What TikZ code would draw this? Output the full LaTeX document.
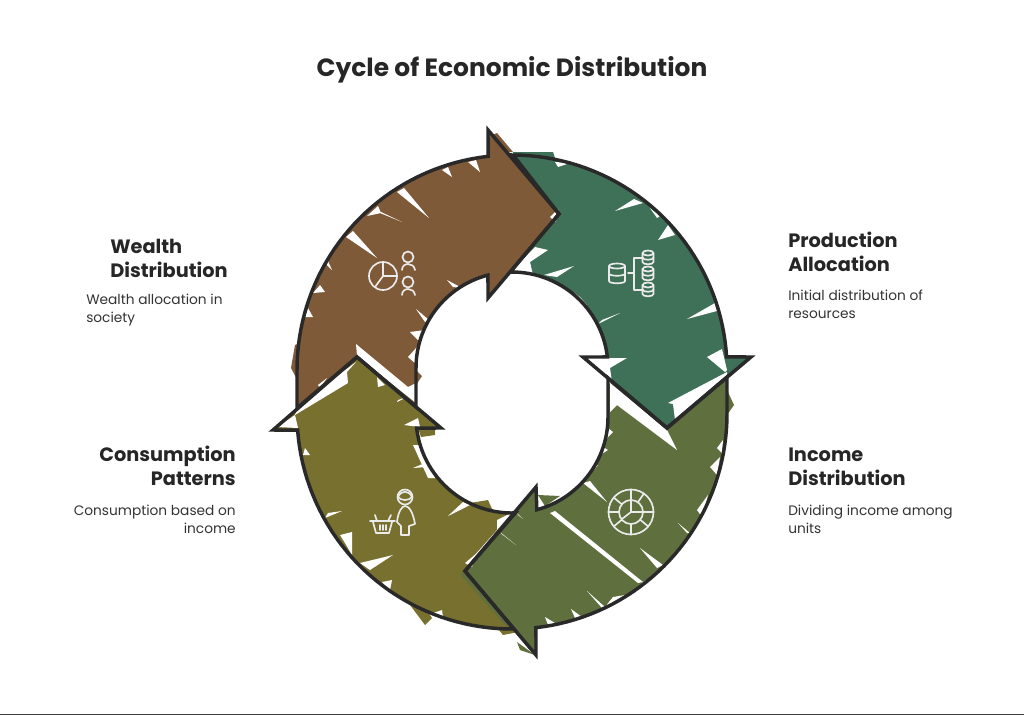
\documentclass[tikz,border=0pt]{standalone}
\usepackage{fontspec}
\usepackage{xcolor}
\setmainfont{Poppins}
\def\wealtharrow{(357,357) -- (297,408) -- plot[domain=180:96.4,samples=40] ({512+215*cos(\x)},{370-215*sin(\x)}) -- (488,130) -- (559,214) -- (488,298) -- plot[domain=104.5:180,samples=30] ({512+96*cos(\x)},{368-96*sin(\x)}) -- (416,407) -- cycle}
\def\productionarrow{(559,214) -- plot[domain=89.7:3.5,samples=40] ({512+215*cos(\x)},{370-215*sin(\x)}) -- (751,357) -- (667,428) -- (583,357) -- plot[domain=6.6:91,samples=30] ({512+96*cos(\x)},{368-96*sin(\x)}) -- cycle}
\def\incomearrow{(667,428) -- (727,377) -- plot[domain=0:-83.6,samples=40] ({512+215*cos(\x)},{414-215*sin(\x)}) -- (536,655) -- (465,571) -- (536,487) -- plot[domain=-75:0,samples=30] ({512+96*cos(\x)},{417-96*sin(\x)}) -- (608,378) -- cycle}
\def\consumptionarrow{(357,357) -- (273,430) -- plot[domain=184.3:270.5,samples=40] ({512+215*cos(\x)},{414-215*sin(\x)}) -- (465,571) -- plot[domain=272:186.6,samples=30] ({512+96*cos(\x)},{417-96*sin(\x)}) -- (441,428) -- cycle}
\colorlet{arrow edge}{black!84}
\definecolor{wealth area}{HTML}{7F5A38}
\definecolor{production area}{HTML}{3F7058}
\definecolor{income area}{HTML}{5F6F3E}
\definecolor{consumption area}{HTML}{77702F}
\colorlet{icon line}{white!92!black}
\tikzset{outline/.style={draw=arrow edge, line width=2.6pt, line join=miter, miter limit=4},
    slit/.style={fill=white},
    iconline/.style={draw=icon line, line width=1.25pt, line cap=round, line join=round},
    headtext/.style={font=\bfseries\fontsize{14.5}{18}\selectfont, text=black!85, inner sep=0pt},
    bodytext/.style={font=\fontsize{10.3}{13.5}\selectfont, text=black!80, inner sep=0pt}}

\begin{document}
\begin{tikzpicture}[x=0.75pt,y=-0.75pt]
    \useasboundingbox (0,0) rectangle (1024,715);
    % fills, with the bits that stick out of the outline
    \fill[consumption area] \consumptionarrow;
    \fill[consumption area] (470,503) -- (488,500) -- (497,520) -- (480,525) -- cycle;
    \fill[consumption area] (410,605) -- (428,612) -- (432,618) -- (425,625) -- cycle;
    \fill[consumption area] (417,425) -- (435,430) -- (435,435) -- (421,437) -- cycle;
    \fill[consumption area] (495,625) -- (515,628) -- (518,632) -- (503,635) -- cycle;
    \fill[wealth area] \wealtharrow;
    \fill[wealth area] (295,345) -- (300,343) -- (300,385) -- (291,368) -- cycle;
    \fill[wealth area] (497,133) -- (513,152) -- (505,152) -- (492,135) -- cycle;
    \fill[wealth area] (416,370) -- (422,376) -- (416,385) -- cycle;
    \fill[production area] \productionarrow;
    \fill[production area] (513,152) -- (553,152) -- (555,158) -- (515,160) -- cycle;
    \fill[income area] \incomearrow;
    \fill[income area] (727,390) -- (734,405) -- (727,415) -- cycle;
    \fill[income area] (538,495) -- (560,496) -- (545,506) -- cycle;
    \fill[income area] (517,642) -- (535,655) -- (520,650) -- cycle;
    \fill[income area] (460,574) -- (468,570) -- (514,626) -- (506,626) -- cycle;
    % white gaps of the rough fill
    \foreach \gap in {{(397,192) -- (404,188) -- (429,218)}, {(346,237) -- (353,231) -- (377,258)},
        {(367,216) -- (378,206) -- (381,213)}, {(381,212) -- (402,222) -- (380,213)},
        {(442,170) -- (452,177) -- (448,167)},
        {(468,162) -- (480,172) -- (476,160)}, {(313,293) -- (325,292) -- (320,285)},
        {(305,317) -- (313,317) -- (308,308)}, {(327,265) -- (332,270) -- (328,261)},
        {(447,280) -- (462,288) -- (453,287)}, {(416,309) -- (429,320) -- (425,322)},
        {(410,332) -- (420,342) -- (425,330)}, {(408,357) -- (417,365) -- (417,347)},
        {(356,344) -- (408,387) -- (416,383) -- (416,403) -- (357,356)},
        {(550,217) -- (558,209) -- (559,216) -- (555,222)},
        {(318,385) -- (327,378) -- (320,388)},
        % production
        {(555,162) -- (570,163) -- (558,167)}, {(615,211) -- (634,199) -- (643,203)},
        {(658,240) -- (675,235) -- (668,225)}, {(650,208) -- (660,216) -- (657,218)},
        {(687,319) -- (715,303) -- (717,311)}, {(707,357) -- (722,349) -- (727,370) -- (725,372)},
        {(668,403) -- (673,404) -- (675,420) -- (727,378) -- (727,372)},
        {(544,275) -- (574,266) -- (557,277)}, {(598,324) -- (620,313) -- (602,320)},
        {(585,358) -- (607,358) -- (627,358) -- (610,368) -- (612,382) -- (607,385)},
        {(510,272) -- (535,247) -- (548,250) -- (530,262) -- (533,275)},
        {(573,292) -- (580,297) -- (587,305)},
        % income
        {(610,383) -- (667,430) -- (677,450) -- (617,405) -- (610,412)},
        {(550,513) -- (555,511) -- (643,582) -- (638,583)},
        {(583,483) -- (590,481) -- (607,502)}, {(640,548) -- (663,565) -- (657,568)},
        {(587,591) -- (605,607) -- (602,608)}, {(613,597) -- (625,595) -- (605,607)},
        {(571,609) -- (582,617) -- (575,618)}, {(545,617) -- (555,623) -- (548,625)},
        {(678,523) -- (690,533) -- (687,533)}, {(500,532) -- (516,545) -- (503,535)},
        {(517,513) -- (523,519) -- (518,515)}, {(697,510) -- (708,495) -- (702,517)},
        {(710,467) -- (720,457) -- (717,475)}, {(717,448) -- (723,440) -- (722,453)},
        {(647,580) -- (663,568) -- (635,590) -- (643,582)},
        {(608,428) -- (613,432) -- (607,438)}, {(603,447) -- (608,450) -- (600,455)},
        {(593,467) -- (598,465) -- (588,477)},
        % consumption
        {(295,415) -- (348,383) -- (347,372) -- (356,362) -- (298,405)},
        {(277,427) -- (295,415) -- (298,428)}, {(377,377) -- (385,385) -- (378,387)},
        {(397,402) -- (407,397) -- (398,400)}, {(404,425) -- (418,418) -- (420,427)},
        {(413,445) -- (422,445) -- (435,478) -- (428,478)}, {(413,468) -- (425,463) -- (427,467)},
        {(448,516) -- (470,505) -- (463,502)}, {(360,563) -- (393,555) -- (370,570)},
        {(325,518) -- (342,511) -- (328,513)}, {(340,535) -- (352,532) -- (352,555) -- (345,543)},
        {(303,455) -- (310,455) -- (305,448)}, {(382,582) -- (392,580) -- (390,590)},
        {(433,613) -- (442,610) -- (443,617)}, {(465,563) -- (477,553) -- (472,567)},
        {(497,520) -- (513,512) -- (472,562) -- (474,556) -- (497,530)}}
        \fill[slit] \gap -- cycle;
    % outlines
    \draw[outline] \consumptionarrow;
    \draw[outline] \incomearrow;
    \draw[outline] \productionarrow;
    \draw[outline] \wealtharrow;
    % icons
    \draw[iconline] (383,276) circle (14);
    \draw[iconline] (383,262) -- (383,276) -- (397,276);
    \draw[iconline] (383,276) -- (375,287);
    \draw[iconline] (408,257) circle (5.5);
    \draw[iconline] (402,270) .. controls (402,262) and (414,262) .. (415,270);
    \draw[iconline] (408,282) circle (5.5);
    \draw[iconline] (402,295) .. controls (402,287) and (414,287) .. (415,295);
    \foreach \cx/\cy/\rx/\hgt in {617/266/8/15, 648/253/5.5/9, 648/269/5.5/9, 648/285/5.5/9} {
        \draw[iconline] (\cx,\cy) ellipse [x radius=\rx, y radius=2.5];
        \draw[iconline] (\cx-\rx,\cy) -- (\cx-\rx,\cy+\hgt) .. controls (\cx-\rx,\cy+\hgt+3) and (\cx+\rx,\cy+\hgt+3) .. (\cx+\rx,\cy+\hgt) -- (\cx+\rx,\cy);
        \draw[iconline] (\cx-\rx,\cy+0.5*\hgt) .. controls (\cx-\rx,\cy+0.5*\hgt+3) and (\cx+\rx,\cy+0.5*\hgt+3) .. (\cx+\rx,\cy+0.5*\hgt);
    }
    \draw[iconline] (628,273) -- (634,273);
    \draw[iconline] (642,258) -- (634,258) -- (634,290) -- (642,290);
    \draw[iconline] (405,497) circle (7.5);
    \draw[iconline] (398,497) .. controls (401,490) and (409,490) .. (412,497);
    \draw[iconline] (398,497) .. controls (401,501) and (409,501) .. (412,497);
    \draw[iconline] (397,522) .. controls (398,512) and (402,506) .. (405,506) .. controls (409,506) and (413,512) .. (415,524) -- (409,526) -- (409,535) -- (401,535) -- (401,526) -- (397,522);
    \draw[iconline] (370,521) -- (395,521);
    \draw[iconline] (373,522) -- (376,533) -- (389,533) -- (392,522);
    \draw[iconline] (375,515) -- (377,521);
    \draw[iconline] (391,515) -- (388,521);
    \foreach \slat in {380,383,386} \draw[iconline] (\slat,525) -- (\slat,530);
    \begin{scope}[shift={(631,512)}]
        \draw[iconline] (0,0) circle (22.5);
        \draw[iconline] (0,0) circle (12);
        \foreach \spoke in {-90,-55,0,40,90,140,180,-140}
            \draw[iconline] (\spoke:12) -- (\spoke:22.5);
        \draw[iconline] (0,-12) -- (0,0) -- (12,0);
        \draw[iconline] (0,0) -- (-9,7);
    \end{scope}
    % labels
    \node[font=\bfseries\fontsize{18.7}{22}\selectfont, text=black!85, inner sep=0pt] (title) at (512,70) {Cycle of Economic Distribution};
    \node[headtext, align=left, anchor=west] (wealth head) at (110,258) {Wealth\\Distribution};
    \node[bodytext, align=left, anchor=west] (wealth body) at (86,310) {Wealth allocation in\\society};
    \node[headtext, align=left, anchor=west] (production head) at (788,252) {Production\\Allocation};
    \node[bodytext, align=left, anchor=west] (production body) at (788,304) {Initial distribution of\\resources};
    \node[headtext, align=left, anchor=west] (income head) at (788,467) {Income\\Distribution};
    \node[bodytext, align=left, anchor=west] (income body) at (788,519) {Dividing income among\\units};
    \node[headtext, align=right, anchor=east] (consumption head) at (236,466) {Consumption\\Patterns};
    \node[bodytext, align=right, anchor=east] (consumption body) at (236,519) {Consumption based on\\income};
    \draw[black!75, line width=1.1pt] (0,714.3) -- (1024,714.3);
\end{tikzpicture}
\end{document}
